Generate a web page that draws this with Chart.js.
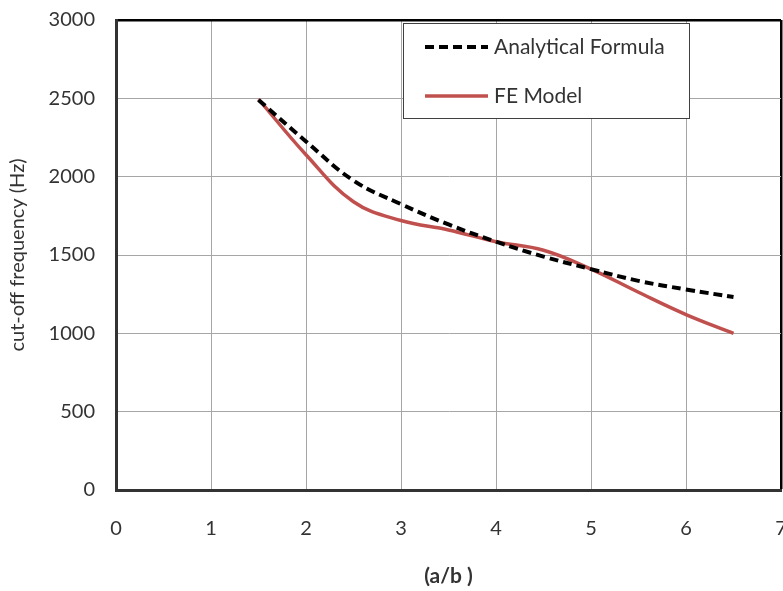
<!DOCTYPE html>
<html>
<head>
<meta charset="utf-8">
<script src="https://cdn.jsdelivr.net/npm/chart.js@4/dist/chart.umd.min.js"></script>
<style>
html,body{margin:0;padding:0;background:#fff;}
#wrap{position:relative;width:783px;height:591px;}
</style>
</head>
<body>
<div id="wrap"><canvas id="c" width="783" height="591"></canvas></div>
<script>
const ratios = [1.5, 2, 2.5, 3, 3.5, 4, 4.5, 5, 5.5, 6, 6.5];
const analytical = [2490, 2225, 1975, 1825, 1695, 1585, 1490, 1410, 1335, 1280, 1232];
const feModel = [2495, 2140, 1840, 1720, 1660, 1585, 1530, 1410, 1262, 1120, 1000];
const xTicks = [0, 1, 2, 3, 4, 5, 6, 7];
const yTicks = [0, 500, 1000, 1500, 2000, 2500, 3000];
const seriesNames = ['Analytical Formula', 'FE Model'];

const FONT = 'Lato, "Open Sans", sans-serif';
const TEXT = '#333333';

const legendBox = {
  id: 'legendBox',
  afterDatasetsDraw(chart) {
    const {ctx, chartArea} = chart;
    const x0 = chartArea.left + 287, y0 = chartArea.top + 3;
    const w = 286, h = 95;
    ctx.save();
    ctx.fillStyle = '#fff';
    ctx.fillRect(x0, y0, w, h);
    ctx.strokeStyle = '#404040';
    ctx.lineWidth = 1;
    ctx.strokeRect(x0 + 0.5, y0 + 0.5, w, h);
    const rows = [24, 73];
    chart.data.datasets.forEach((ds, i) => {
      const y = y0 + rows[i];
      ctx.beginPath();
      ctx.strokeStyle = ds.borderColor;
      ctx.lineWidth = ds.borderWidth;
      ctx.setLineDash(ds.borderDash || []);
      ctx.moveTo(x0 + 22, y);
      ctx.lineTo(x0 + 85, y);
      ctx.stroke();
      ctx.setLineDash([]);
      ctx.fillStyle = TEXT;
      ctx.font = '21px ' + FONT;
      ctx.textBaseline = 'middle';
      ctx.textAlign = 'left';
      ctx.fillText(ds.label, x0 + 91, y);
    });
    ctx.restore();
  }
};

new Chart(document.getElementById('c'), {
  type: 'scatter',
  data: {
    datasets: [
      {
        label: seriesNames[0],
        data: ratios.map((r, i) => ({x: r, y: analytical[i]})),
        showLine: true,
        borderColor: '#000000',
        borderWidth: 4,
        borderDash: [9, 5],
        pointRadius: 0,
        tension: 0.4,
        order: 1
      },
      {
        label: seriesNames[1],
        data: ratios.map((r, i) => ({x: r, y: feModel[i]})),
        showLine: true,
        borderColor: '#c0504d',
        borderWidth: 3.5,
        pointRadius: 0,
        tension: 0.4,
        order: 2
      }
    ]
  },
  options: {
    responsive: false,
    animation: false,
    devicePixelRatio: 1,
    layout: {padding: {top: 20, right: 2, left: 0, bottom: 0}},
    plugins: {legend: {display: false}, tooltip: {enabled: false}},
    scales: {
      x: {
        type: 'linear',
        min: 0, max: 7,
        afterBuildTicks: s => { s.ticks = xTicks.map(v => ({value: v})); },
        afterFit: s => { s.height = 101; s.paddingLeft = 0; s.paddingRight = 0; },
        ticks: {color: TEXT, font: {family: FONT, size: 20}, padding: 27, maxRotation: 0, callback: v => String(v)},
        grid: {
          drawTicks: false,
          color: c => c.tick && c.tick.value === 7 ? '#000' : '#a6a6a6',
          lineWidth: c => c.tick && c.tick.value === 7 ? 2.5 : 1
        },
        border: {display: true, color: '#333', width: 3},
        title: {display: true, text: '(a/b )', color: TEXT, font: {family: FONT, size: 21, weight: 'bold'}, padding: {bottom: 2}}
      },
      y: {
        type: 'linear',
        min: 0, max: 3000,
        afterBuildTicks: s => { s.ticks = yTicks.map(v => ({value: v})); },
        afterFit: s => { s.width = 116; s.paddingTop = 0; s.paddingBottom = 0; },
        ticks: {color: TEXT, font: {family: FONT, size: 20}, padding: 21, callback: v => String(v)},
        grid: {
          drawTicks: false,
          color: c => c.tick && c.tick.value === 3000 ? '#000' : '#a6a6a6',
          lineWidth: c => c.tick && c.tick.value === 3000 ? 2.5 : 1
        },
        border: {display: true, color: '#333', width: 3},
        title: {display: true, text: 'cut-off frequency (Hz)', color: TEXT, font: {family: FONT, size: 20}, padding: {top: 6}}
      }
    }
  },
  plugins: [legendBox]
});
</script>
</body>
</html>
